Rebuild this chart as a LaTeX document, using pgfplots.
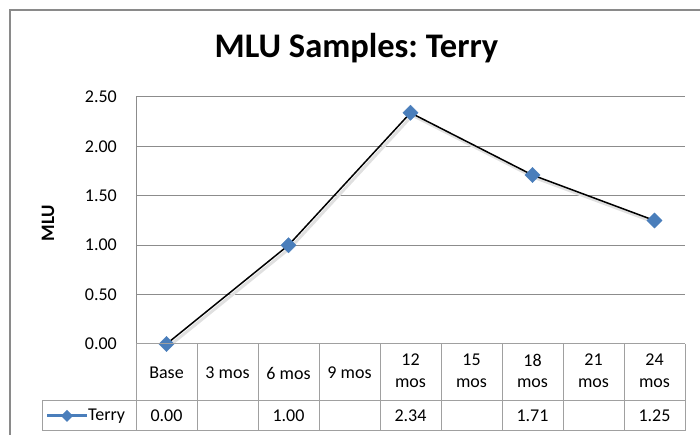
\documentclass[border=0pt]{standalone}
\usepackage{pgfplots}
\pgfplotsset{compat=1.18}
\usepackage{fontspec}
\setmainfont{Carlito}
\frenchspacing
\definecolor{gridc}{HTML}{8C8C8C}
\definecolor{tabc}{HTML}{A0A0A0}
\definecolor{borderc}{HTML}{8A8A8A}
\definecolor{mblue}{HTML}{4A7EBB}
\begin{document}
\begin{tikzpicture}
\begin{scope}[x=1pt,y=1pt]
\path[use as bounding box] (0,0) rectangle (700,435);
% outer chart border
\draw[borderc, line width=1.8pt] (10,-2) -- (10,425) -- (702,425);
\end{scope}
\begin{axis}[
  at={(136pt,91pt)}, anchor=south west,
  width=549pt, height=247pt, scale only axis,
  xmin=-0.5, xmax=8.5, ymin=0, ymax=2.5,
  ytick={0,0.5,1,1.5,2,2.5},
  xtick=\empty,
  axis lines=left,
  axis line style={-, draw=gridc, line width=1pt},
  ymajorgrids,
  grid style={gridc, line width=1pt},
  major tick length=0pt,
  yticklabel style={anchor=east, inner sep=0pt, xshift=-19pt, font=\fontsize{18}{20}\selectfont},
  /pgf/number format/.cd, fixed, fixed zerofill, precision=2, assume math mode=true,
  /pgfplots/.cd,
  clip=false,
]
\addplot[black!12, line width=3pt, shift={(2pt,-2.5pt)}] coordinates {(0,0) (2,1.00) (4,2.34) (6,1.71) (8,1.25)};
\addplot[only marks, mark=square*, mark size=5.4pt, mark options={rotate=45, fill=mblue, draw=mblue}] coordinates {(0,0) (2,1.00) (4,2.34) (6,1.71) (8,1.25)};
\addplot[black, line width=1.5pt, mark=none] coordinates {(0,0) (2,1.00) (4,2.34) (6,1.71) (8,1.25)};
\end{axis}
\begin{scope}[x=1pt,y=1pt]
% title
\node[anchor=base, font=\fontsize{34.5}{38}\selectfont\bfseries] at (356.5,377) {MLU Samples: Terry};
% y label
\node[rotate=90, font=\fontsize{19}{21}\selectfont\bfseries] at (48,212) {MLU};
% data table grid
\begin{scope}[tabc, line width=1pt]
\draw (136,91) -- (685,91);
\draw (42,34.3) -- (685,34.3);
\draw (42,4.3) -- (685,4.3);
\draw (42,34.3) -- (42,4.3);
\foreach \i in {0,...,9} { \draw ({136+61*\i},91) -- ({136+61*\i},4.3); }
\end{scope}
% category labels
\begin{scope}[font=\fontsize{18}{20}\selectfont]
\node at (166.5,62) {Base};
\node at (227.5,62) {3 mos};
\node at (288.5,62) {6 mos};
\node at (349.5,62) {9 mos};
\foreach \i/\t in {4/12,5/15,6/18,7/21,8/24} {
  \node at ({166.5+61*\i},75) {\t};
  \node at ({166.5+61*\i},52) {mos};
}
% values row
\node at (166.5,19) {0.00};
\node at (288.5,19) {1.00};
\node at (410.5,19) {2.34};
\node at (532.5,19) {1.71};
\node at (654.5,19) {1.25};
% legend key
\draw[mblue, line width=3pt] (47,19) -- (87,19);
\fill[mblue] (67,19) ++(0,6) -- ++(6,-6) -- ++(-6,-6) -- ++(-6,6) -- cycle;
\node[anchor=west, inner sep=0pt] at (88,19) {Terry};
\end{scope}
\end{scope}
\end{tikzpicture}
\end{document}
